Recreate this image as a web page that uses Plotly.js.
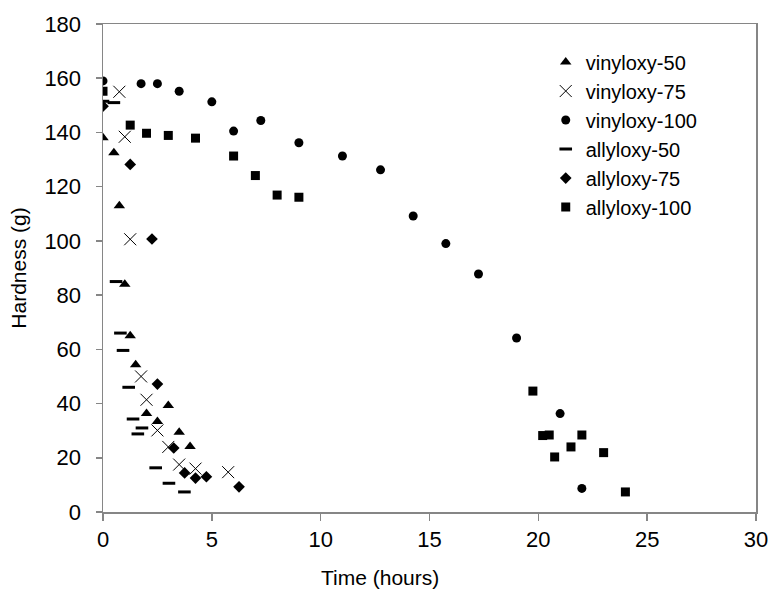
<!DOCTYPE html>
<html>
<head>
<meta charset="utf-8">
<script src="https://cdn.plot.ly/plotly-3.0.1.min.js"></script>
<style>html,body{margin:0;padding:0;background:#fff;}#chart{width:772px;height:590px;}</style>
</head>
<body>
<div id="chart"></div>
<script>
// vinyloxy-50
var v50_x = [0, 0.5, 0.75, 1, 1.25, 1.5, 2, 2.5, 3, 3.5, 4];
var v50_y = [138, 132.5, 113, 84, 65, 54.3, 36.3, 33.4, 39.3, 29.4, 24.2];
// vinyloxy-75
var v75_x = [0.75, 1, 1.25, 1.75, 2, 2.5, 3, 3.5, 4.25, 5.75];
var v75_y = [155, 138.4, 100.6, 50, 41.4, 30.1, 24, 17.5, 16, 14.7];
// vinyloxy-100
var v100_x = [0, 1.75, 2.5, 3.5, 5, 6, 7.25, 9, 11, 12.75, 14.25, 15.75, 17.25, 19, 21, 22];
var v100_y = [159, 158, 158, 155.2, 151.3, 140.5, 144.4, 136.2, 131.3, 126.2, 109.2, 99, 87.8, 64.2, 36.3, 8.7];
// allyloxy-50
var a50_x = [0, 0.5, 0.6, 0.8, 0.92, 1.18, 1.38, 1.79, 1.6, 2.42, 3.03, 3.74];
var a50_y = [151.5, 151, 85, 66, 59.6, 46, 34.3, 31, 28.8, 16.3, 10.6, 7.4];
// allyloxy-75
var a75_x = [0, 1.25, 2.25, 2.5, 3.25, 3.75, 4.25, 4.75, 6.25];
var a75_y = [149.7, 128.2, 100.7, 47.2, 23.6, 14.4, 12.5, 13, 9.3];
// allyloxy-100
var a100_x = [0, 1.25, 2, 3, 4.25, 6, 7, 8, 9, 19.75, 20.2, 20.5, 20.75, 21.5, 22, 23, 24];
var a100_y = [155.2, 142.7, 139.7, 138.9, 137.9, 131.3, 124.1, 116.9, 116.1, 44.6, 28.2, 28.4, 20.3, 24, 28.4, 21.9, 7.4];

var seriesNames = ['vinyloxy-50', 'vinyloxy-75', 'vinyloxy-100', 'allyloxy-50', 'allyloxy-75', 'allyloxy-100'];
var xTickVals = [0, 5, 10, 15, 20, 25, 30];
var yTickVals = [0, 20, 40, 60, 80, 100, 120, 140, 160, 180];

var FONT = 'Liberation Sans, Arial, sans-serif';

function tr(x, y, name, marker, grp) {
  return {x: x, y: y, name: name, type: 'scatter', mode: 'markers', marker: marker, legendgroup: grp};
}

var data = [
  tr(v50_x, v50_y, seriesNames[0], {symbol: 'triangle-up', size: 10, color: '#000'}, 'g1'),
  tr(v75_x, v75_y, seriesNames[1], {symbol: 'x-thin-open', size: 12, color: '#000', line: {width: 1, color: '#000'}}, 'g2'),
  tr(v100_x, v100_y, seriesNames[2], {symbol: 'circle', size: 9, color: '#000'}, 'g3'),
  tr(a50_x, a50_y, seriesNames[3], {symbol: 'line-ew', size: 9, color: '#000', line: {width: 3, color: '#000'}}, 'g4'),
  tr(a75_x, a75_y, seriesNames[4], {symbol: 'diamond', size: 9, color: '#000'}, 'g5'),
  tr(a100_x, a100_y, seriesNames[5], {symbol: 'square', size: 9, color: '#000'}, 'g6')
];

var layout = {
  width: 772, height: 590,
  margin: {l: 103, r: 16, t: 24, b: 77.5},
  paper_bgcolor: '#fff', plot_bgcolor: '#fff',
  font: {family: FONT, size: 21, color: '#000'},
  showlegend: true,
  legend: {x: 0.678, y: 0.962, xanchor: 'left', yanchor: 'top', bgcolor: 'rgba(0,0,0,0)',
           font: {family: FONT, size: 20, color: '#000'}, tracegroupgap: 0, itemwidth: 30},
  xaxis: {
    range: [0, 30], tickvals: xTickVals, ticktext: xTickVals.map(String),
    showgrid: false, zeroline: false, showline: true, mirror: true,
    linecolor: '#868686', linewidth: 1.5, ticks: 'outside', ticklen: 7, tickcolor: '#868686', tickwidth: 1.5,
    tickfont: {family: FONT, size: 22, color: '#000'}
  },
  yaxis: {
    range: [0, 180], tickvals: yTickVals, ticktext: yTickVals.map(String),
    showgrid: false, zeroline: false, showline: true, mirror: true,
    linecolor: '#868686', linewidth: 1.5, ticks: 'outside', ticklen: 6, tickcolor: '#868686', tickwidth: 1.5,
    tickfont: {family: FONT, size: 22, color: '#000'}, ticklabelstandoff: 10,
    title: {text: 'Hardness (g)', font: {family: FONT, size: 21, color: '#000'}, standoff: 12}
  },
  annotations: [{
    text: 'Time (hours)', xref: 'paper', yref: 'paper', x: 0.424, y: -0.134,
    xanchor: 'center', yanchor: 'middle', showarrow: false,
    font: {family: FONT, size: 21, color: '#000'}
  }]
};

Plotly.newPlot('chart', data, layout, {displayModeBar: false, staticPlot: true});
</script>
</body>
</html>
